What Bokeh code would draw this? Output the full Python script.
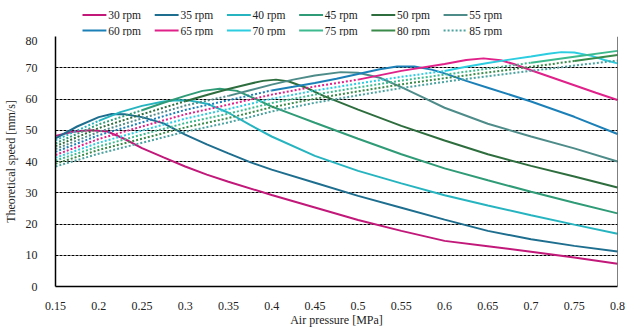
from bokeh.plotting import figure
from bokeh.layouts import column
from bokeh.models import Range1d, FixedTicker, Span
from bokeh.core.properties import value
from bokeh.embed import file_html
from bokeh.resources import INLINE

rpm_labels = ["30 rpm", "35 rpm", "40 rpm", "45 rpm", "50 rpm", "55 rpm",
              "60 rpm", "65 rpm", "70 rpm", "75 rpm", "80 rpm", "85 rpm"]
colors = ["#C2187A", "#1E6E8F", "#26B5C0", "#2F9B77", "#2E6E3E", "#4E8C8A",
          "#1C80B8", "#E0218A", "#2CCDE0", "#3DBA8E", "#3A8A4A", "#4AA3A0"]

x_ticks = [0.15, 0.2, 0.25, 0.3, 0.35, 0.4, 0.45, 0.5, 0.55, 0.6, 0.65, 0.7, 0.75, 0.8]
x_tick_labels = ["0.15", "0.2", "0.25", "0.3", "0.35", "0.4", "0.45", "0.5",
                 "0.55", "0.6", "0.65", "0.7", "0.75", "0.8"]
y_ticks = [0, 10, 20, 30, 40, 50, 60, 70, 80]

# dotted (rising) parts, sampled on dot_x
dot_x = [0.15, 0.2, 0.25, 0.3, 0.35, 0.4, 0.45, 0.5, 0.55, 0.6, 0.65, 0.7, 0.75, 0.8]
dot_30 = []
dot_35 = []
dot_40 = [46.8, 53.0]
dot_45 = [45.8, 51.9, 56.4]
dot_50 = [44.9, 50.7, 55.1, 59.3]
dot_55 = [44.0, 49.5, 53.8, 57.9, 61.0]
dot_60 = [43.1, 48.4, 52.5, 56.5, 59.6, 62.75]
dot_65 = [42.1, 47.2, 51.2, 55.1, 58.2, 61.4, 64.0, 66.2]
dot_70 = [41.2, 46.0, 49.9, 53.7, 56.8, 60.05, 62.7, 64.95, 67.1, 68.95]
dot_75 = [40.3, 44.8, 48.6, 52.3, 55.3, 58.7, 61.4, 63.7, 65.9, 67.8, 69.7, 71.6]
dot_80 = [39.3, 43.7, 47.3, 50.9, 53.9, 57.35, 60.1, 62.45, 64.7, 66.65, 68.5, 70.3, 72.15]
dot_85 = [38.4, 42.5, 46.0, 49.5, 52.5, 56.0, 58.8, 61.2, 63.5, 65.5, 67.3, 69.0, 70.7, 72.3]

# solid parts
s30_x = [0.15, 0.17, 0.19, 0.21, 0.23, 0.25, 0.275, 0.3, 0.325, 0.35, 0.4, 0.45, 0.5, 0.55, 0.6, 0.65, 0.7, 0.75, 0.8]
s30_y = [48.2, 49.5, 50.0, 49.6, 47.2, 44.3, 41.3, 38.4, 35.8, 33.5, 29.3, 25.3, 21.3, 17.8, 14.6, 12.9, 11.1, 9.3, 7.3]
s35_x = [0.15, 0.175, 0.2, 0.215, 0.23, 0.25, 0.275, 0.3, 0.325, 0.35, 0.375, 0.4, 0.45, 0.5, 0.55, 0.6, 0.65, 0.7, 0.75, 0.8]
s35_y = [47.4, 51.2, 54.2, 55.2, 55.1, 54.2, 52.2, 48.6, 45.5, 42.6, 39.8, 37.4, 33.2, 29.0, 25.2, 21.4, 17.8, 15.1, 13.0, 11.2]
s40_x = [0.2, 0.225, 0.25, 0.275, 0.29, 0.305, 0.325, 0.35, 0.375, 0.4, 0.45, 0.5, 0.55, 0.6, 0.65, 0.7, 0.75, 0.8]
s40_y = [53.0, 55.8, 57.8, 59.2, 59.6, 59.5, 58.5, 55.6, 51.7, 48.0, 41.8, 37.0, 33.0, 29.2, 25.9, 22.8, 19.8, 16.9]
s45_x = [0.25, 0.275, 0.3, 0.32, 0.34, 0.36, 0.38, 0.4, 0.425, 0.45, 0.5, 0.55, 0.6, 0.65, 0.7, 0.75, 0.8]
s45_y = [56.4, 58.8, 61.0, 62.6, 63.3, 62.6, 60.2, 57.6, 55.0, 52.4, 47.3, 42.3, 37.8, 34.0, 30.3, 26.8, 23.4]
s50_x = [0.3, 0.325, 0.35, 0.375, 0.39, 0.405, 0.42, 0.44, 0.46, 0.5, 0.55, 0.6, 0.65, 0.7, 0.75, 0.8]
s50_y = [59.3, 61.3, 63.2, 64.9, 65.8, 66.2, 65.6, 63.6, 61.0, 56.6, 51.4, 46.7, 42.3, 38.6, 35.2, 31.7]
s55_x = [0.35, 0.375, 0.4, 0.425, 0.45, 0.48, 0.5, 0.525, 0.55, 0.575, 0.6, 0.65, 0.7, 0.75, 0.8]
s55_y = [61.0, 62.8, 64.6, 66.2, 67.5, 68.6, 68.4, 66.8, 63.8, 60.5, 57.2, 52.1, 48.0, 44.2, 40.0]
s60_x = [0.4, 0.425, 0.45, 0.475, 0.5, 0.525, 0.545, 0.565, 0.585, 0.6, 0.625, 0.65, 0.7, 0.75, 0.8]
s60_y = [62.75, 63.9, 65.1, 66.5, 68.0, 69.5, 70.4, 70.4, 69.4, 68.2, 65.8, 63.6, 59.2, 54.3, 48.8]
s65_x = [0.5, 0.55, 0.6, 0.625, 0.645, 0.665, 0.68, 0.7, 0.725, 0.75, 0.775, 0.8]
s65_y = [66.2, 69.0, 71.2, 72.5, 73.0, 72.4, 71.2, 69.2, 66.8, 64.4, 62.0, 59.7]
s70_x = [0.6, 0.625, 0.65, 0.675, 0.7, 0.72, 0.735, 0.75, 0.77, 0.785, 0.8]
s70_y = [68.95, 70.3, 71.5, 72.6, 73.6, 74.5, 75.0, 74.9, 73.8, 72.5, 71.4]
s75_x = [0.7, 0.75, 0.8]
s75_y = [71.6, 73.5, 75.4]
s80_x = [0.75, 0.775, 0.8]
s80_y = [72.15, 73.1, 74.1]
s85_x = []
s85_y = []

dots = [dot_30, dot_35, dot_40, dot_45, dot_50, dot_55, dot_60, dot_65, dot_70, dot_75, dot_80, dot_85]
solids = [(s30_x, s30_y), (s35_x, s35_y), (s40_x, s40_y), (s45_x, s45_y), (s50_x, s50_y),
          (s55_x, s55_y), (s60_x, s60_y), (s65_x, s65_y), (s70_x, s70_y), (s75_x, s75_y),
          (s80_x, s80_y), (s85_x, s85_y)]

SERIF = "Liberation Serif"
W, H = 635, 329
LEG_H = 36

p = figure(width=W, height=H - LEG_H, output_backend="svg", toolbar_location=None,
           x_range=Range1d(0.15, 0.8), y_range=Range1d(0, 80),
           min_border_left=52, min_border_right=18, min_border_top=0, min_border_bottom=36)
p.background_fill_color = "white"
p.border_fill_color = "white"
p.outline_line_color = None

p.xgrid.grid_line_color = None
p.ygrid.grid_line_color = "black"
p.ygrid.grid_line_dash = "3 1"
p.ygrid.grid_line_width = 1
p.ygrid.ticker = FixedTicker(ticks=y_ticks)

p.xaxis.ticker = FixedTicker(ticks=x_ticks)
p.xaxis.major_label_overrides = {t: l for t, l in zip(x_ticks, x_tick_labels)}
p.yaxis.ticker = FixedTicker(ticks=y_ticks)
for ax in (p.xaxis, p.yaxis):
    ax.major_tick_line_color = None
    ax.minor_tick_line_color = None
    ax.axis_line_color = "black"
    ax.axis_line_width = 1.5
    ax.major_label_text_font = SERIF
    ax.major_label_text_font_size = "12px"
    ax.major_label_text_color = "#222222"
    ax.axis_label_text_font = SERIF
    ax.axis_label_text_font_size = "12px"
    ax.axis_label_text_font_style = "normal"
    ax.axis_label_text_color = "#222222"
p.xaxis.axis_label = "Air pressure [MPa]"
p.yaxis.axis_label = "Theoretical speed [mm/s]"
p.xaxis.major_label_standoff = 9
p.xaxis.axis_label_standoff = 0
p.yaxis.major_label_standoff = 12
p.yaxis.axis_label_standoff = 5

p.add_layout(Span(location=0.8, dimension="height", line_color="black", line_width=1))

for i in range(len(rpm_labels)):
    col = colors[i]
    dy = dots[i]
    if dy:
        p.line(dot_x[:len(dy)], dy, line_color=col, line_width=2, line_dash="2 2")
    sx, sy = solids[i]
    if sx:
        p.line(sx, sy, line_color=col, line_width=2)

# legend strip drawn in pixel coordinates (y downwards)
pl = figure(width=W, height=LEG_H, output_backend="svg", toolbar_location=None,
            x_range=Range1d(0, W), y_range=Range1d(LEG_H, 0),
            x_axis_type=None, y_axis_type=None,
            min_border_left=0, min_border_right=0, min_border_top=0, min_border_bottom=0)
pl.grid.visible = False
pl.outline_line_color = None
pl.background_fill_color = "white"
pl.border_fill_color = "white"

LEG_X0, LEG_PITCH, LEG_Y0, LEG_ROW, SAMPLE = 30.5, 81.6, 14.5, 15.5, 27
for i, lab in enumerate(rpm_labels):
    c, r = i % 6, i // 6
    x0 = LEG_X0 + c * LEG_PITCH
    yy = LEG_Y0 + r * LEG_ROW
    dash = "solid" if solids[i][0] else "2 2"
    pl.segment(x0=[x0], y0=[yy], x1=[x0 + SAMPLE], y1=[yy], line_color=colors[i],
               line_width=2, line_dash=dash)
    pl.text(x=[x0 + SAMPLE + 2], y=[yy], text=[lab], text_font=value(SERIF),
            text_font_size="11.5px", text_baseline="middle", text_align="left",
            text_color="#222222")

layout = column(pl, p, spacing=0)
open("out.html", "w").write(file_html(layout, INLINE))
